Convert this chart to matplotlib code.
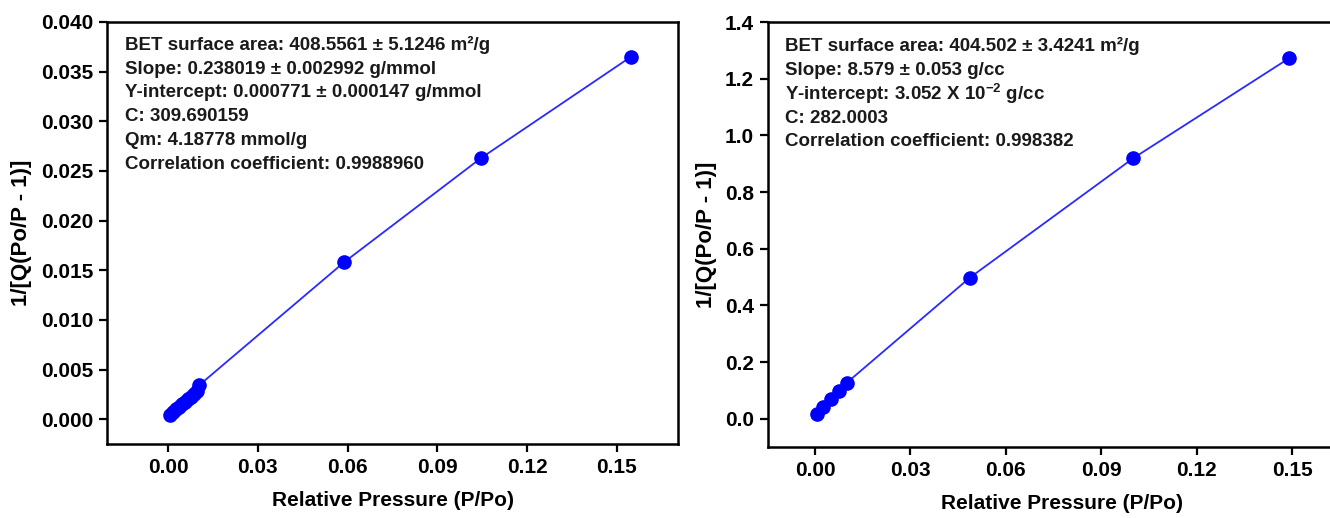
import matplotlib
matplotlib.use("Agg")
import matplotlib.pyplot as plt

plt.rcParams['font.family'] = ['Liberation Sans', 'DejaVu Sans']
plt.rcParams['font.weight'] = 'bold'
plt.rcParams['mathtext.fontset'] = 'custom'
plt.rcParams['mathtext.rm'] = 'Liberation Sans:bold'
plt.rcParams['mathtext.bf'] = 'Liberation Sans:bold'
plt.rcParams['mathtext.default'] = 'bf'

# left sample
p1 = [0.0005, 0.0015, 0.0025, 0.0035, 0.0045, 0.0055, 0.0065, 0.0075, 0.0085, 0.0095, 0.0103,
      0.0588, 0.1046, 0.1547]
q1 = [0.00045, 0.00075, 0.00100, 0.00125, 0.00150, 0.00175, 0.00200, 0.00225, 0.00255, 0.00280, 0.00340,
      0.0158, 0.0263, 0.0365]
text1 = ["BET surface area: 408.5561 \u00b1 5.1246 m\u00b2/g",
         "Slope: 0.238019 \u00b1 0.002992 g/mmol",
         "Y-intercept: 0.000771 \u00b1 0.000147 g/mmol",
         "C: 309.690159",
         "Qm: 4.18778 mmol/g",
         "Correlation coefficient: 0.9988960"]

# right sample
p2 = [0.0006, 0.0025, 0.0050, 0.0075, 0.0100, 0.0487, 0.1000, 0.1490]
q2 = [0.018, 0.042, 0.071, 0.099, 0.127, 0.498, 0.919, 1.272]
text2 = ["BET surface area: 404.502 \u00b1 3.4241 m\u00b2/g",
         "Slope: 8.579 \u00b1 0.053 g/cc",
         "Y-intercept: 3.052 X 10$^{-2}$ g/cc",
         "C: 282.0003",
         "Correlation coefficient: 0.998382"]

fig = plt.figure(figsize=(13.3, 5.18), dpi=100)
ax1 = fig.add_axes([0.0805, 0.1429, 0.4293, 0.8147])
ax2 = fig.add_axes([0.5774, 0.137, 0.442, 0.8205])


def style(ax):
    for s in ax.spines.values():
        s.set_linewidth(1.8)
    ax.tick_params(which='both', direction='out', length=6, width=1.6,
                   labelsize=15, top=False, right=False, pad=4)
    for lab in ax.get_xticklabels() + ax.get_yticklabels():
        lab.set_fontweight('bold')
    ax.set_xlabel("Relative Pressure (P/Po)", fontsize=15, fontweight='bold', labelpad=10)
    ax.set_ylabel("1/[Q(Po/P - 1)]", fontsize=16, fontweight='bold', labelpad=6)


ax1.plot(p1, q1, '-', color='#2a2aff', lw=1.3, zorder=2)
ax1.plot(p1, q1, 'o', color='#0000ff', ms=9.5, mec='#0000ff', lw=0, zorder=3)
ax1.set_xlim(-0.0204, 0.1704)
ax1.set_ylim(-0.0025, 0.040)
ax1.set_xticks([0.00, 0.03, 0.06, 0.09, 0.12, 0.15])
ax1.set_xticklabels(["0.00", "0.03", "0.06", "0.09", "0.12", "0.15"])
ax1.set_yticks([0.000, 0.005, 0.010, 0.015, 0.020, 0.025, 0.030, 0.035, 0.040])
ax1.set_yticklabels(["%.3f" % v for v in ax1.get_yticks()])
style(ax1)
for i, t in enumerate(text1):
    ax1.text(0.032, 0.945 - i * 0.0565, t, transform=ax1.transAxes, fontsize=13.5,
             fontweight='bold', va='center', ha='left', color='#1a1a1a')

ax2.plot(p2, q2, '-', color='#2a2aff', lw=1.3, zorder=2)
ax2.plot(p2, q2, 'o', color='#0000ff', ms=9.5, mec='#0000ff', lw=0, zorder=3)
ax2.set_xlim(-0.0148, 0.17)
ax2.set_ylim(-0.1, 1.4)
ax2.set_xticks([0.00, 0.03, 0.06, 0.09, 0.12, 0.15])
ax2.set_xticklabels(["0.00", "0.03", "0.06", "0.09", "0.12", "0.15"])
ax2.set_yticks([0.0, 0.2, 0.4, 0.6, 0.8, 1.0, 1.2, 1.4])
ax2.set_yticklabels(["%.1f" % v for v in ax2.get_yticks()])
style(ax2)
for i, t in enumerate(text2):
    ax2.text(0.029, 0.943 - i * 0.0563, t, transform=ax2.transAxes, fontsize=13.5,
             fontweight='bold', va='center', ha='left', color='#1a1a1a')

fig.savefig("out.png", dpi=100)
